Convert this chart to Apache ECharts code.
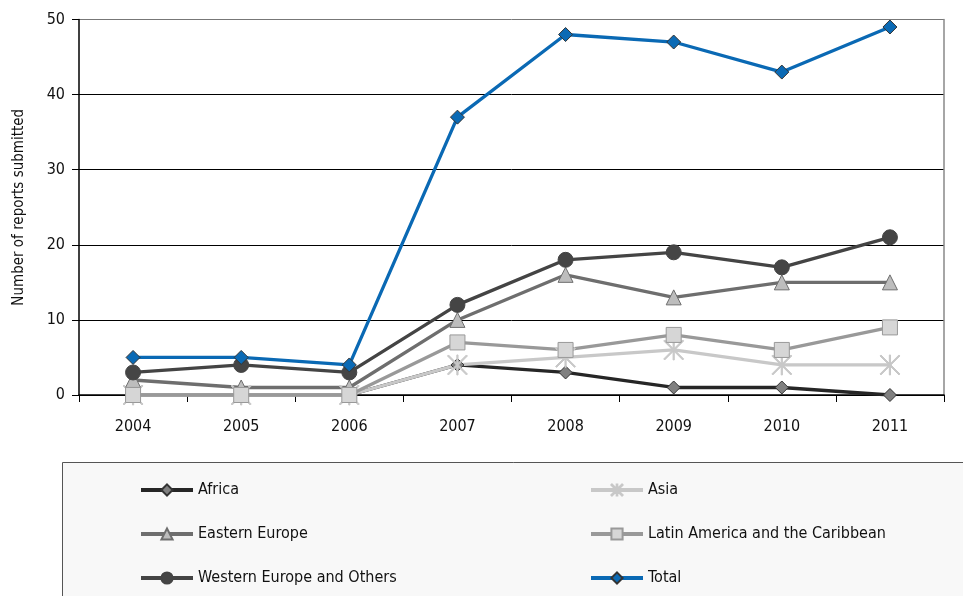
<!DOCTYPE html>
<html>
<head>
<meta charset="utf-8">
<script src="https://cdn.jsdelivr.net/npm/echarts@6/dist/echarts.min.js"></script>
<style>html,body{margin:0;padding:0;background:#fff}#c{width:963px;height:596px}</style>
</head>
<body>
<div id="c"></div>
<script>
var years = ['2004','2005','2006','2007','2008','2009','2010','2011'];
var africa = [0,0,0,4,3,1,1,0];
var asia = [0,0,0,4,5,6,4,4];
var easternEurope = [2,1,1,10,16,13,15,15];
var latinAmerica = [0,0,0,7,6,8,6,9];
var westernEurope = [3,4,3,12,18,19,17,21];
var total = [5,5,4,37,48,47,43,49];

var FONT = '"Liberation Sans Narrow","DejaVu Sans Condensed",sans-serif';
var asterisk = 'path://M47 0 L53 0 L53 100 L47 100 Z M0 5 L5 0 L100 95 L95 100 Z M95 0 L100 5 L5 100 L0 95 Z';

function s(name, data, lineColor, symbol, size, fill, border, z) {
  return {
    name: name, type: 'line', data: data, z: z,
    symbol: symbol, symbolSize: size,
    lineStyle: {color: lineColor, width: 3.3},
    itemStyle: {color: fill, borderColor: border, borderWidth: 1},
    emphasis: {disabled: true},
    animation: false
  };
}

var legendCommon = {
  orient: 'vertical', top: 477, itemGap: 28,
  itemWidth: 52, itemHeight: 14,
  lineStyle: {width: 4},
  textStyle: {fontFamily: FONT, fontSize: 16, color: '#111'}
};

var chart = echarts.init(document.getElementById('c'));
chart.setOption({
  animation: false,
  textStyle: {fontFamily: FONT},
  grid: {left: 79, right: 19, top: 19.5, bottom: 201, outerBoundsMode: 'none', containLabel: false},
  graphic: [{
    type: 'rect', left: 62, top: 462, z: -1,
    shape: {width: 910, height: 140},
    style: {fill: '#f8f8f8', stroke: '#555', lineWidth: 1}
  }],
  legend: [
    Object.assign({}, legendCommon, {left: 134, data: ['Africa', 'Eastern Europe', 'Western Europe and Others']}),
    Object.assign({}, legendCommon, {left: 584, data: ['Asia', 'Latin America and the Caribbean', 'Total']})
  ],
  xAxis: {
    type: 'category', data: years, boundaryGap: true,
    axisLine: {lineStyle: {color: '#000', width: 1.5}},
    axisTick: {show: true, length: 7, lineStyle: {color: '#000'}},
    axisLabel: {fontFamily: FONT, fontSize: 16, color: '#111', margin: 24}
  },
  yAxis: [{
    type: 'value', min: 0, max: 50, interval: 10,
    name: 'Number of reports submitted', nameLocation: 'middle', nameGap: 52,
    nameTextStyle: {fontFamily: FONT, fontSize: 15, color: '#111'},
    axisLine: {show: true, lineStyle: {color: '#000', width: 1.5}},
    axisTick: {show: true, length: 7, lineStyle: {color: '#000'}},
    axisLabel: {fontFamily: FONT, fontSize: 16, color: '#111', margin: 14},
    splitLine: {show: true, lineStyle: {color: ['#000','#000','#000','#000','#000','#777'], width: 1}}
  }, {
    type: 'value', min: 0, max: 50, interval: 10, position: 'right',
    axisLine: {show: true, lineStyle: {color: '#888', width: 1.5}},
    axisTick: {show: false}, axisLabel: {show: false}, splitLine: {show: false}
  }],
  series: [
    s('Africa', africa, '#262626', 'diamond', 13, '#808080', '#333', 2),
    s('Asia', asia, '#c8c8c8', asterisk, 20, '#c8c8c8', '#c8c8c8', 2),
    s('Eastern Europe', easternEurope, '#6e6e6e', 'triangle', 15, '#bdbdbd', '#6e6e6e', 2),
    s('Latin America and the Caribbean', latinAmerica, '#999', 'rect', 15, '#d6d6d6', '#999', 2),
    s('Western Europe and Others', westernEurope, '#444', 'circle', 15, '#454545', '#444', 2),
    s('Total', total, '#0a69b4', 'diamond', 14, '#0b6ab5', '#333', 3)
  ]
});
</script>
</body>
</html>
